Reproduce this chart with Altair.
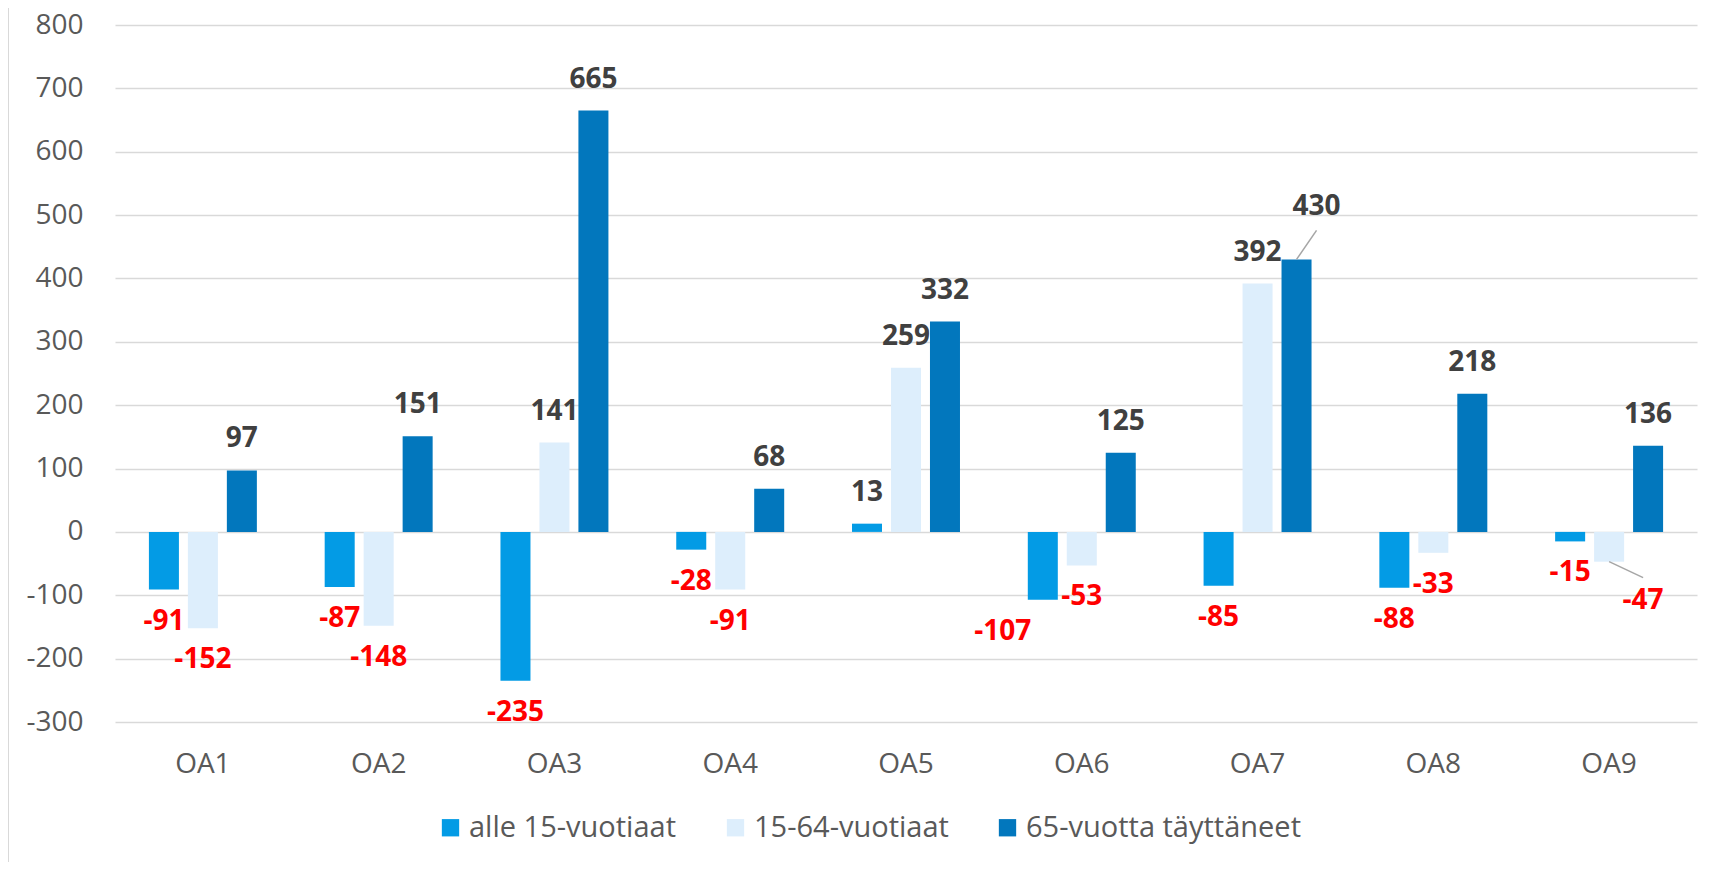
import altair as alt
import pandas as pd

categories = ["OA1", "OA2", "OA3", "OA4", "OA5", "OA6", "OA7", "OA8", "OA9"]
series_names = ["alle 15-vuotiaat", "15-64-vuotiaat", "65-vuotta täyttäneet"]
alle15 = [-91, -87, -235, -28, 13, -107, -85, -88, -15]
age15_64 = [-152, -148, 141, -91, 259, -53, 392, -33, -47]
age65 = [97, 151, 665, 68, 332, 125, 430, 218, 136]
colors = ["#039be5", "#ddeefc", "#0277bd"]
y_ticks = [-300, -200, -100, 0, 100, 200, 300, 400, 500, 600, 700, 800]

rows = []
for s, vals in zip(series_names, [alle15, age15_64, age65]):
    for c, v in zip(categories, vals):
        rows.append({"cat": c, "series": s, "value": v, "label": str(v)})
df = pd.DataFrame(rows)

FONT = "Open Sans"
W, H = 1582, 697

x_enc = alt.X("cat:N", sort=categories, title=None,
              scale=alt.Scale(paddingInner=0, paddingOuter=0),
              axis=alt.Axis(labelFontSize=28, labelColor="#595959", labelFont=FONT,
                            ticks=False, tickSize=0, domain=False, grid=False,
                            labelPadding=28, labelAngle=0))
xoff_enc = alt.XOffset("series:N", sort=series_names,
                       scale=alt.Scale(paddingInner=0.23, paddingOuter=0.87))
y_enc = alt.Y("value:Q", title=None,
              scale=alt.Scale(domain=[-300, 800], nice=False, zero=False),
              axis=alt.Axis(values=y_ticks, labelFontSize=28, labelColor="#595959",
                            labelFont=FONT, ticks=False, tickSize=0, domain=False,
                            grid=True, gridColor="#d9d9d9", gridWidth=1.3,
                            labelPadding=32, labelExpr="toString(datum.value)"))

base = alt.Chart(df)

bars = base.mark_bar().encode(
    x=x_enc, xOffset=xoff_enc, y=y_enc,
    color=alt.Color("series:N", sort=series_names,
                    scale=alt.Scale(domain=series_names, range=colors),
                    legend=alt.Legend(title=None, orient="none", direction="horizontal",
                                      legendX=321, legendY=788,
                                      symbolType="square", symbolSize=300,
                                      symbolStrokeWidth=0, labelLimit=1000,
                                      labelFontSize=29, labelColor="#595959",
                                      labelFont=FONT, labelOffset=4,
                                      columnPadding=44, padding=0)),
)

# labels moved by hand in the original chart: (category, series) -> (dx, dy)
special = {
    ("OA7", "65-vuotta täyttäneet"): (20, -52),
    ("OA9", "15-64-vuotiaat"): (34, 39),
    ("OA6", "alle 15-vuotiaat"): (-40, 32),
}
not_special = " && ".join(
    f"!(datum.cat === '{c}' && datum.series === '{s}')" for (c, s) in special
)

def text_layer(filter_expr, dx, dy, color):
    return base.transform_filter(filter_expr).mark_text(
        font=FONT, fontSize=28, fontWeight="bold", baseline="middle",
        align="center", dx=dx, dy=dy, color=color
    ).encode(x=alt.X("cat:N", sort=categories), xOffset=alt.XOffset("series:N", sort=series_names),
             y="value:Q", text="label:N")

layers = [bars,
          text_layer(f"datum.value >= 0 && {not_special}", 0, -31, "#404040"),
          text_layer(f"datum.value < 0 && {not_special}", 0, 32, "#ff0000")]
for (c, s), (dx, dy) in special.items():
    col = "#404040" if df[(df.cat == c) & (df.series == s)].value.iloc[0] >= 0 else "#ff0000"
    layers.append(text_layer(f"datum.cat === '{c}' && datum.series === '{s}'", dx, dy, col))

def leader(c, s, path, size):
    return base.transform_filter(
        f"datum.cat === '{c}' && datum.series === '{s}'"
    ).mark_point(shape=path, size=size, filled=False, stroke="#a6a6a6",
                 strokeWidth=1.5, opacity=1).encode(
        x=alt.X("cat:N", sort=categories), xOffset=alt.XOffset("series:N", sort=series_names),
        y="value:Q")

layers.append(leader("OA7", "65-vuotta täyttäneet", "M0,0L1,-1.45", 1600))
layers.append(leader("OA9", "15-64-vuotiaat", "M0,0L1,0.47", 4624))

border = alt.Chart(alt.Data(values=[{"a": 1}])).mark_rule(
    color="#d9d9d9", strokeWidth=2).encode(
    x=alt.value(-107), y=alt.value(-17), y2=alt.value(H + 140))
layers.append(border)

chart = alt.layer(*layers).properties(
    width=W, height=H,
    autosize=alt.AutoSizeParams(type="none"),
    padding={"left": 107, "top": 17, "right": 6, "bottom": 140},
).configure_view(stroke=None)

chart.save("out.html", embed_options={"renderer": "svg", "actions": False})
